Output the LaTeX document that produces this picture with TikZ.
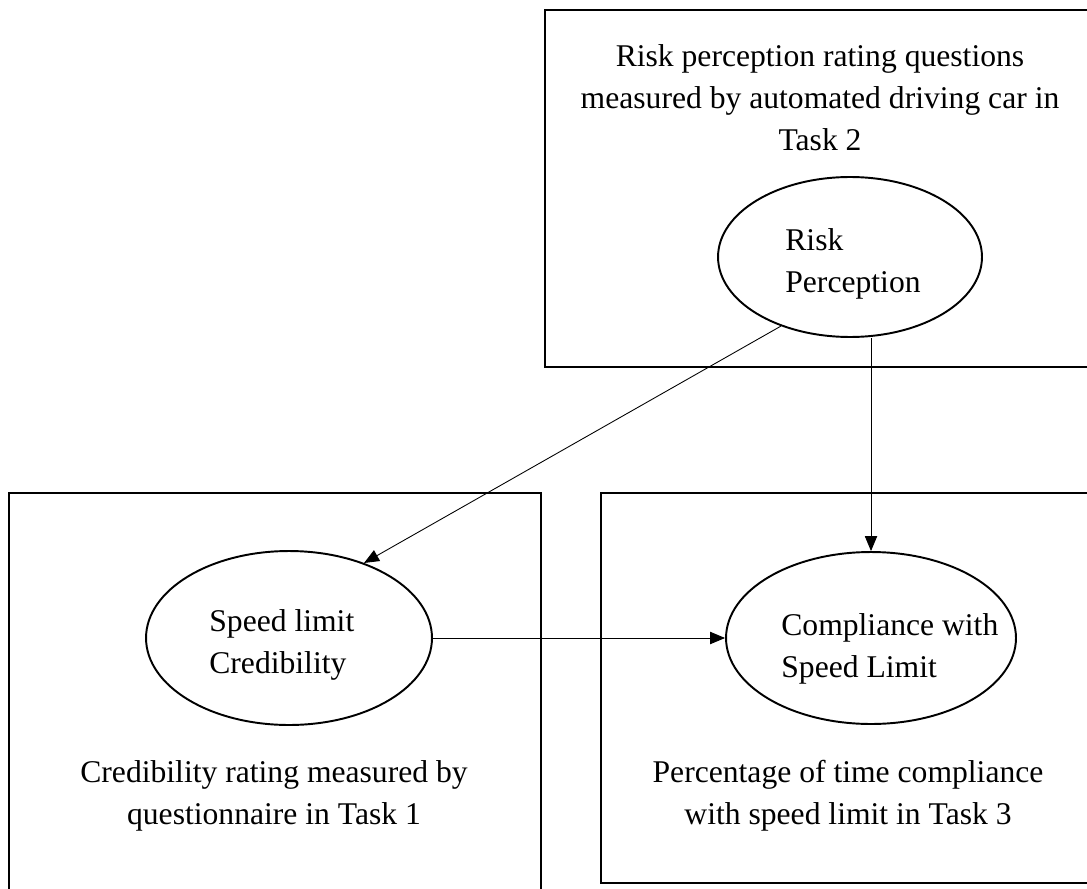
\documentclass[tikz,border=0pt]{standalone}
\usepackage{fontspec}
\setmainfont{Liberation Serif}
\usetikzlibrary{arrows.meta, positioning, shapes.geometric}

\begin{document}
\begin{tikzpicture}[
    x=0.02cm, y=-0.02cm,
    >={Triangle[length=8.5pt, width=7pt]},
    every node/.style={font=\fontsize{18}{23.8}\selectfont},
    panel/.style={line width=1.1pt},
    oval/.style={draw, ellipse, line width=1.1pt, inner sep=0pt},
    lbl/.style={align=center, inner sep=0pt},
    inlbl/.style={align=left, anchor=west, inner sep=0pt},
    link/.style={->, line width=0.5pt},
]
\useasboundingbox (0,0) rectangle (1087,888);
% the three measurement panels (they run off the page)
\draw[panel] (545,10) rectangle (1097,367);
\draw[panel] (9,493) rectangle (541,900);
\draw[panel] (601,493) rectangle (1097,883);
% what is measured, and where
\node[lbl] (task2) at (820,98) {Risk perception rating questions\\ measured by automated driving car in\\ Task 2};
\node[lbl] (task1) at (274,796) {Credibility rating measured by\\ questionnaire in Task 1};
\node[lbl] (task3) at (848,796) {Percentage of time compliance\\ with speed limit in Task 3};
% the constructs
\node[oval, minimum width=5.28cm, minimum height=3.2cm] (RP) at (850,257) {};
\node[oval, minimum width=5.72cm, minimum height=3.48cm] (SL) at (289,638) {};
\node[oval, minimum width=5.8cm, minimum height=3.44cm] (CS) at (871,638) {};
\node[inlbl] (RPtext) at (785,264) {Risk\\ Perception};
\node[inlbl] (SLtext) at (209,645) {Speed limit\\ Credibility};
\node[inlbl] (CStext) at (781,649) {Compliance with\\ Speed Limit};
% paths between them
\draw[link] (RP.225) -- (SL.45);
\draw[link] (RP.south -| CS.north) -- (CS.north);
\draw[link] (SL.east) -- (CS.west);
\end{tikzpicture}
\end{document}
